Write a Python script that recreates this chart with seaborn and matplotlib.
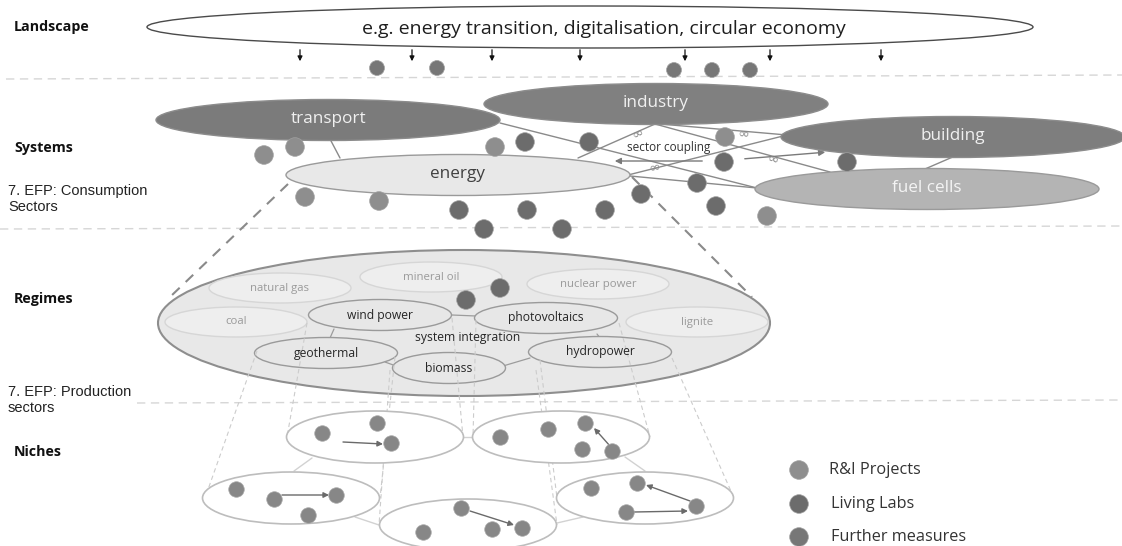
import numpy as np
import pandas as pd
import matplotlib
matplotlib.use("Agg")
import matplotlib.pyplot as plt
from matplotlib.patches import Ellipse
import seaborn as sns

sns.set_theme(style="white")
plt.rcParams['font.family'] = ['Open Sans', 'DejaVu Sans']

# ---------------- data ----------------
level_labels = ["Landscape", "Systems", "Regimes", "Niches"]
level_label_y = [27, 148, 299, 452]
efp_labels = ["7. EFP: Consumption\nSectors", "7. EFP: Production\nsectors"]
efp_label_y = [199, 400]

landscape_text = "e.g. energy transition, digitalisation, circular economy"
landscape_arrow_x = [300, 412, 492, 580, 685, 770, 881]

system_names = ["transport", "industry", "building", "fuel cells", "energy"]
system_cx = [328, 656, 953, 927, 458]
system_cy = [120, 104, 137, 189, 175]
system_fill = ["#7b7b7b", "#808080", "#7e7e7e", "#b4b4b4", "#e8e8e8"]
system_text_color = ["#f0f0f0", "#f0f0f0", "#f0f0f0", "#f4f4f4", "#404040"]

regime_old = ["natural gas", "mineral oil", "nuclear power", "coal", "lignite"]
regime_old_cx = [280, 431, 598, 236, 697]
regime_old_cy = [288, 277, 284, 322, 322]
regime_new = ["wind power", "photovoltaics", "geothermal", "hydropower", "biomass"]
regime_new_cx = [380, 546, 326, 600, 449]
regime_new_cy = [315, 318, 353, 352, 368]

niche_cx = [375, 561, 291, 468, 645]
niche_cy = [437, 437, 498, 525, 498]

legend_labels = ["R&I Projects", "Living Labs", "Further measures"]
legend_colors = ["#8e8e8e", "#6c6c6c", "#777777"]

landscape_dot_x = [377, 437, 674, 712, 750]
landscape_dot_y = [68, 68, 70, 70, 70]
landscape_dot_kind = ["Further measures"] * 5

system_dot_x = [264, 295, 495, 725, 305, 379, 767,
                525, 589, 724, 847, 697, 641, 716, 605, 459, 527, 484, 562]
system_dot_y = [155, 147, 147, 137, 197, 201, 216,
                142, 142, 162, 162, 183, 194, 206, 210, 210, 210, 229, 229]
system_dot_kind = ["R&I Projects"] * 7 + ["Living Labs"] * 12

regime_dot_x = [466, 500]
regime_dot_y = [300, 288]
regime_dot_kind = ["Living Labs", "Living Labs"]

niche_dot_x = [322, 377, 391, 236, 274, 336, 308, 423, 461, 492, 522,
               500, 548, 585, 582, 612, 591, 637, 626, 696]
niche_dot_y = [433, 423, 443, 489, 499, 495, 515, 532, 508, 529, 528,
               437, 429, 423, 449, 451, 488, 483, 512, 506]

# ---------------- figure ----------------
fig = plt.figure(figsize=(11.22, 5.46), dpi=100)
ax = fig.add_axes([0, 0, 1, 1])
ax.set_xlim(0, 1122)
ax.set_ylim(546, 0)
ax.axis("off")

sep = dict(color="#d6d6d6", lw=1.0, ls=(0, (6, 4)), zorder=0)
ax.plot([6, 1122], [79, 75], **sep)
ax.plot([0, 1122], [229, 226], **sep)
ax.plot([137, 1122], [403, 400], **sep)

for lab, y in zip(level_labels, level_label_y):
    ax.text(14, y, lab, fontsize=10.3, fontweight="bold", color="#111111",
            va="center", ha="left")
for lab, y in zip(efp_labels, efp_label_y):
    ax.text(8, y, lab, fontsize=10.5, family=["Liberation Sans", "DejaVu Sans"],
            color="#222222", va="center", ha="left", linespacing=1.15)

# landscape
ax.add_patch(Ellipse((590, 27), 886, 42, fc="white", ec="#4a4a4a", lw=1.0, zorder=2))
ax.text(604, 29, landscape_text, fontsize=14, color="#1e1e1e",
        ha="center", va="center", zorder=3)
for x in landscape_arrow_x:
    ax.annotate("", xy=(x, 64), xytext=(x, 47),
                arrowprops=dict(arrowstyle="-|>", color="#111111", lw=0.9,
                                mutation_scale=7), zorder=3)

# system links
link = dict(color="#8a8a8a", lw=1.0, zorder=1)
ax.plot([330, 340], [139, 158], **link)
ax.plot([655, 578], [124, 158], **link)
ax.plot([655, 830], [124, 172], **link)
ax.plot([660, 787], [124, 135], **link)
ax.plot([787, 628], [135, 175], **link)
ax.plot([500, 757], [123, 188], **link)
ax.plot([630, 757], [176, 188], **link)
ax.plot([955, 925], [156, 169], **link)
for (x0, y0, x1, y1) in [(705, 161, 612, 161), (742, 159, 828, 152)]:
    ax.annotate("", xy=(x1, y1), xytext=(x0, y0),
                arrowprops=dict(arrowstyle="-|>", color="#7a7a7a", lw=1.0,
                                mutation_scale=9), zorder=1)
for (x, y, r) in [(638, 134, 25), (743, 134, -5), (655, 168, 12), (773, 160, -18)]:
    ax.text(x, y, "∞", fontsize=10, color="#8a8a8a", ha="center", va="center",
            rotation=r, zorder=2, family=["DejaVu Sans"])
ax.text(669, 147, "sector coupling", fontsize=8.5, color="#333333",
        ha="center", va="center", zorder=3)

# systems ellipses
for name, cx, cy, fc, tc in zip(system_names, system_cx, system_cy,
                                system_fill, system_text_color):
    ec = "#9a9a9a" if fc in ("#e8e8e8", "#b4b4b4") else "#8c8c8c"
    ax.add_patch(Ellipse((cx, cy), 344, 41, fc=fc, ec=ec, lw=1.0, zorder=2))
    ax.text(cx, cy - 1, name, fontsize=12.3, color=tc, ha="center", va="center", zorder=3)

# dashed funnel to regimes
funnel = dict(color="#8a8a8a", lw=1.5, ls=(0, (5, 4)), zorder=1)
ax.plot([288, 170], [184, 297], **funnel)
ax.plot([632, 752], [177, 297], **funnel)

# regimes
ax.add_patch(Ellipse((464, 323), 612, 146, fc="#e8e8e8", ec="#8e8e8e", lw=1.5, zorder=1.5))
for name, cx, cy in zip(regime_old, regime_old_cx, regime_old_cy):
    ax.add_patch(Ellipse((cx, cy), 142, 30, fc="#eeeeee", ec="#d6d6d6", lw=1.0, zorder=2))
    ax.text(cx, cy, name, fontsize=8.2, color="#9a9a9a", ha="center", va="center", zorder=3)
inner = dict(color="#9c9c9c", lw=0.9, zorder=1.8)
ax.plot([334, 330], [329, 338], **inner)
ax.plot([452, 476], [315, 316], **inner)
ax.plot([597, 600], [334, 338], **inner)
ax.plot([385, 396], [362, 366], **inner)
ax.plot([503, 530], [366, 358], **inner)
for name, cx, cy in zip(regime_new, regime_new_cx, regime_new_cy):
    w = 113 if name == "biomass" else 143
    ax.add_patch(Ellipse((cx, cy), w, 31, fc="#e7e7e7", ec="#9a9a9a", lw=1.0, zorder=2))
    ax.text(cx, cy, name, fontsize=8.7, color="#262626", ha="center", va="center", zorder=3)
ax.text(468, 338, "system integration", fontsize=8.7, color="#262626",
        ha="center", va="center", zorder=3)

# dashed lines from regimes to niches
thin = dict(color="#cccccc", lw=0.8, ls=(0, (4, 3)), zorder=2.5)
for (x0, y0, x1, y1) in [(257, 351, 205, 498), (307, 323, 287, 437),
                         (390, 370, 379, 525), (395, 357, 380, 498),
                         (452, 318, 463, 437), (476, 320, 473, 437),
                         (536, 370, 557, 525), (540, 360, 557, 498),
                         (619, 323, 650, 437), (672, 358, 734, 498)]:
    ax.plot([x0, x1], [y0, y1], **thin)

# niches
nl = dict(color="#d2d2d2", lw=1.0, zorder=1)
ax.plot([312, 294], [458, 471], **nl)
ax.plot([463, 473], [437, 437], **nl)
ax.plot([625, 645], [457, 471], **nl)
ax.plot([355, 379], [517, 525], **nl)
ax.plot([557, 583], [523, 517], **nl)
for cx, cy in zip(niche_cx, niche_cy):
    ax.add_patch(Ellipse((cx, cy), 177, 52, fc="white", ec="#bdbdbd", lw=1.2, zorder=3))
for (x0, y0, x1, y1) in [(343, 442, 383, 444), (282, 495, 329, 495),
                         (470, 511, 514, 525), (610, 446, 594, 428),
                         (634, 512, 688, 511), (690, 501, 646, 485)]:
    ax.annotate("", xy=(x1, y1), xytext=(x0, y0),
                arrowprops=dict(arrowstyle="-|>", color="#6a6a6a", lw=1.0,
                                mutation_scale=8, shrinkA=0, shrinkB=0), zorder=4)

# dots via seaborn
palette = dict(zip(legend_labels, legend_colors))
df_sys = pd.DataFrame({"x": system_dot_x + regime_dot_x,
                       "y": system_dot_y + regime_dot_y,
                       "kind": system_dot_kind + regime_dot_kind})
sns.scatterplot(data=df_sys, x="x", y="y", hue="kind", palette=palette, s=180,
                edgecolor="#a0a0a0", linewidth=0.5, legend=False, ax=ax, zorder=5)
df_land = pd.DataFrame({"x": landscape_dot_x, "y": landscape_dot_y, "kind": landscape_dot_kind})
sns.scatterplot(data=df_land, x="x", y="y", hue="kind", palette=palette, s=115,
                edgecolor="#a0a0a0", linewidth=0.5, legend=False, ax=ax, zorder=5)
df_niche = pd.DataFrame({"x": niche_dot_x, "y": niche_dot_y})
sns.scatterplot(data=df_niche, x="x", y="y", color="#878787", s=125,
                edgecolor="#a8a8a8", linewidth=0.5, legend=False, ax=ax, zorder=5)

legend_y = [470, 504, 537]
df_leg = pd.DataFrame({"x": [799, 799, 799], "y": legend_y, "kind": legend_labels})
sns.scatterplot(data=df_leg, x="x", y="y", hue="kind", palette=palette, s=180,
                edgecolor="#a0a0a0", linewidth=0.5, legend=False, ax=ax, zorder=5)
for lab, y, dx in zip(legend_labels, legend_y, [829, 831, 831]):
    ax.text(dx, y, lab, fontsize=11.7, color="#333333", ha="left", va="center")

ax.set_xlim(0, 1122)
ax.set_ylim(546, 0)
ax.axis("off")
fig.savefig("out.png", dpi=100)
